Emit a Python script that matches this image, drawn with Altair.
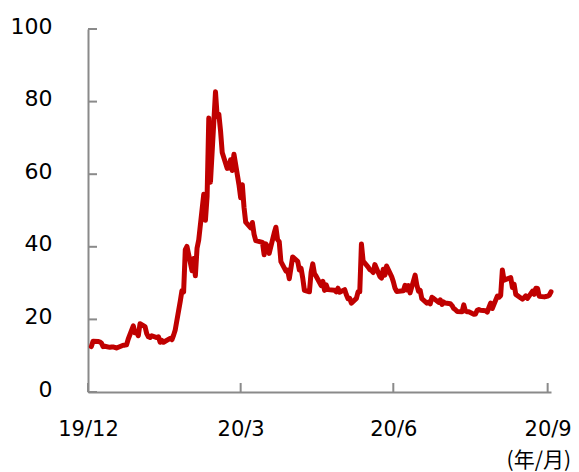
import altair as alt
import pandas as pd

# ---- data ----
dates = [
    "2020-01-02", "2020-01-03", "2020-01-06", "2020-01-07", "2020-01-08", "2020-01-09", "2020-01-10",
    "2020-01-13", "2020-01-14", "2020-01-15", "2020-01-16", "2020-01-17", "2020-01-21", "2020-01-22",
    "2020-01-23", "2020-01-24", "2020-01-27", "2020-01-28", "2020-01-29", "2020-01-30", "2020-01-31",
    "2020-02-03", "2020-02-04", "2020-02-05", "2020-02-06", "2020-02-07", "2020-02-10", "2020-02-11",
    "2020-02-12", "2020-02-13", "2020-02-14", "2020-02-18", "2020-02-19", "2020-02-20", "2020-02-21",
    "2020-02-24", "2020-02-25", "2020-02-26", "2020-02-27", "2020-02-28", "2020-03-02", "2020-03-03",
    "2020-03-04", "2020-03-05", "2020-03-06", "2020-03-09", "2020-03-10", "2020-03-11", "2020-03-12",
    "2020-03-13", "2020-03-16", "2020-03-17", "2020-03-18", "2020-03-19", "2020-03-20", "2020-03-23",
    "2020-03-24", "2020-03-25", "2020-03-26", "2020-03-27", "2020-03-30", "2020-03-31", "2020-04-01",
    "2020-04-02", "2020-04-03", "2020-04-06", "2020-04-07", "2020-04-08", "2020-04-09", "2020-04-13",
    "2020-04-14", "2020-04-15", "2020-04-16", "2020-04-17", "2020-04-20", "2020-04-21", "2020-04-22",
    "2020-04-23", "2020-04-24", "2020-04-27", "2020-04-28", "2020-04-29", "2020-04-30", "2020-05-01",
    "2020-05-04", "2020-05-05", "2020-05-06", "2020-05-07", "2020-05-08", "2020-05-11", "2020-05-12",
    "2020-05-13", "2020-05-14", "2020-05-15", "2020-05-18", "2020-05-19", "2020-05-20", "2020-05-21",
    "2020-05-22", "2020-05-26", "2020-05-27", "2020-05-28", "2020-05-29", "2020-06-01", "2020-06-02",
    "2020-06-03", "2020-06-04", "2020-06-05", "2020-06-08", "2020-06-09", "2020-06-10", "2020-06-11",
    "2020-06-12", "2020-06-15", "2020-06-16", "2020-06-17", "2020-06-18", "2020-06-19", "2020-06-22",
    "2020-06-23", "2020-06-24", "2020-06-25", "2020-06-26", "2020-06-29", "2020-06-30", "2020-07-01",
    "2020-07-02", "2020-07-06", "2020-07-07", "2020-07-08", "2020-07-09", "2020-07-10", "2020-07-13",
    "2020-07-14", "2020-07-15", "2020-07-16", "2020-07-17", "2020-07-20", "2020-07-21", "2020-07-22",
    "2020-07-23", "2020-07-24", "2020-07-27", "2020-07-28", "2020-07-29", "2020-07-30", "2020-07-31",
    "2020-08-03", "2020-08-04", "2020-08-05", "2020-08-06", "2020-08-07", "2020-08-10", "2020-08-11",
    "2020-08-12", "2020-08-13", "2020-08-14", "2020-08-17", "2020-08-18", "2020-08-19", "2020-08-20",
    "2020-08-21", "2020-08-24", "2020-08-25", "2020-08-26", "2020-08-27", "2020-08-28", "2020-08-31",
    "2020-09-01", "2020-09-02", "2020-09-03", "2020-09-04", "2020-09-08", "2020-09-09", "2020-09-10",
    "2020-09-11", "2020-09-14", "2020-09-15", "2020-09-16", "2020-09-17", "2020-09-18", "2020-09-21",
    "2020-09-22", "2020-09-23", "2020-09-24", "2020-09-25", "2020-09-28", "2020-09-29", "2020-09-30",
    "2020-10-01", "2020-10-02",
]
values = [
    12.5, 14.0, 13.9, 13.8, 13.5, 12.5, 12.6,
    12.3, 12.4, 12.4, 12.3, 12.1, 12.9, 12.9,
    13.0, 14.6, 18.2, 16.3, 16.4, 15.5, 18.8,
    18.0, 16.1, 15.2, 15.0, 15.5, 15.0, 15.2,
    13.7, 14.2, 13.7, 14.8, 14.4, 15.6, 17.1,
    25.0, 27.9, 27.6, 39.2, 40.1, 33.4, 36.8,
    32.0, 39.6, 41.9, 54.5, 47.3, 53.9, 75.5,
    57.8, 82.7, 75.9, 76.5, 72.0, 66.0, 61.6,
    61.7, 64.0, 61.0, 65.5, 57.1, 53.5, 57.1,
    50.9, 46.8, 45.2, 46.7, 43.4, 41.7, 41.2,
    37.8, 40.8, 40.1, 38.2, 43.8, 45.4, 42.0,
    41.4, 35.9, 33.3, 33.6, 31.2, 34.2, 37.2,
    36.0, 33.6, 34.1, 31.4, 28.0, 27.6, 33.0,
    35.3, 32.6, 31.9, 29.3, 30.5, 28.0, 29.5,
    28.2, 28.0, 27.6, 28.6, 27.5, 28.2, 26.8,
    25.7, 25.8, 24.5, 25.8, 27.6, 27.6, 40.8,
    36.1, 34.4, 33.7, 33.5, 32.9, 35.1, 31.8,
    31.4, 33.8, 32.2, 34.7, 31.8, 30.4, 28.6,
    27.7, 27.9, 29.4, 28.1, 29.3, 27.3, 32.2,
    29.5, 27.8, 28.0, 25.7, 24.5, 24.8, 24.3,
    26.1, 25.8, 24.7, 25.4, 24.1, 24.8, 24.5,
    24.3, 23.8, 23.0, 22.7, 22.2, 22.1, 24.0,
    22.3, 22.1, 22.1, 21.4, 21.5, 22.5, 22.7,
    22.5, 22.4, 22.0, 23.3, 24.5, 23.0, 26.4,
    26.1, 26.6, 33.6, 30.8, 31.5, 28.8, 29.7,
    26.9, 25.9, 25.6, 26.0, 26.5, 25.8, 27.8,
    26.9, 28.6, 28.5, 26.4, 26.2, 26.3, 26.4,
    26.7, 27.6,
]
x_domain = ["2019-12-31", "2020-10-02"]
tick_dates = ["2019-12-31", "2020-03-31", "2020-06-30", "2020-09-30"]
tick_labels = ["19/12", "20/3", "20/6", "20/9"]
y_ticks = [0, 20, 40, 60, 80, 100]
unit_label = "(年/月)"

# ---- build ----
df = pd.DataFrame({"date": dates, "value": values})
xt = pd.DataFrame({"date": tick_dates})
yt = pd.DataFrame({"v": y_ticks})
ut = pd.DataFrame({"t": [unit_label]})


def dt(s):
    y, m, d = (int(p) for p in s.split("-"))
    return alt.DateTime(year=y, month=m, date=d, utc=True)


label_map = ", ".join(f"'{d}': '{l}'" for d, l in zip(tick_dates, tick_labels))
label_expr = "{" + label_map + "}[utcFormat(datum.value, '%Y-%m-%d')]"

AX = "#8a8a8a"
FONT = "DejaVu Sans"

x_scale = alt.Scale(type="utc", domain=[dt(s) for s in x_domain], nice=False)
y_scale = alt.Scale(domain=[0, 100], nice=False)

line = alt.Chart(df).mark_line(
    color="#C00000", strokeWidth=5, strokeJoin="round", strokeCap="round"
).encode(
    x=alt.X("date:T", scale=x_scale, title=None,
            axis=alt.Axis(values=[dt(s) for s in tick_dates], labelExpr=label_expr,
                          ticks=False, grid=False, domainColor=AX, domainWidth=2,
                          labelFont=FONT, labelFontSize=21, labelColor="#000000",
                          labelPadding=26, labelFlush=False, labelOverlap=False)),
    y=alt.Y("value:Q", scale=y_scale, title=None,
            axis=alt.Axis(values=y_ticks, ticks=False, grid=False, domainColor=AX,
                          domainWidth=2, labelFont=FONT, labelFontSize=22,
                          labelColor="#000000", labelPadding=36, labelOffset=-3)),
)

xticks = alt.Chart(xt).mark_rule(color=AX, strokeWidth=2).encode(
    x=alt.X("date:T", scale=x_scale), y=alt.value(363), y2=alt.value(354)
)
yticks = alt.Chart(yt).mark_rule(color=AX, strokeWidth=2).encode(
    y=alt.Y("v:Q", scale=y_scale), x=alt.value(0), x2=alt.value(9)
)
unit = alt.Chart(ut).mark_text(
    align="right", baseline="bottom", font="Noto Sans CJK JP", fontSize=21, color="#000000"
).encode(text="t:N", x=alt.value(483), y=alt.value(442))

chart = alt.layer(xticks, yticks, line, unit).properties(
    width=463, height=363,
    autosize=alt.AutoSizeParams(type="none"),
    padding={"left": 80, "top": 21, "right": 20, "bottom": 80},
).configure_view(stroke=None)

chart.save("out.html", embed_options={"renderer": "svg", "actions": False})
